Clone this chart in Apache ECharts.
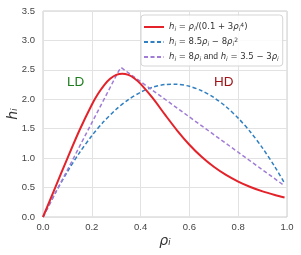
<!DOCTYPE html>
<html><head><meta charset="utf-8">
<script src="https://cdn.jsdelivr.net/npm/echarts@6/dist/echarts.min.js"></script>
<style>html,body{margin:0;padding:0;background:#fff}#c{width:301px;height:255px}</style>
</head><body><div id="c"></div>
<script>
const rhoRed = [0, 0.05, 0.1, 0.15, 0.2, 0.225, 0.25, 0.275, 0.3, 0.325, 0.35, 0.375, 0.4, 0.45, 0.5, 0.55, 0.6, 0.65, 0.7, 0.75, 0.8, 0.85, 0.9, 0.95, 0.99];
const hRed = [0, 0.500, 0.997, 1.478, 1.908, 2.089, 2.238, 2.347, 2.414, 2.435, 2.414, 2.354, 2.262, 2.018, 1.739, 1.469, 1.228, 1.023, 0.853, 0.715, 0.602, 0.510, 0.435, 0.374, 0.332];
const rhoBlue = [0, 0.05, 0.1, 0.15, 0.2, 0.25, 0.3, 0.35, 0.4, 0.45, 0.5, 0.55, 0.6, 0.65, 0.7, 0.75, 0.8, 0.85, 0.9, 0.95, 0.99];
const hBlue = [0, 0.405, 0.77, 1.095, 1.38, 1.625, 1.83, 1.995, 2.12, 2.205, 2.25, 2.255, 2.22, 2.145, 2.03, 1.875, 1.68, 1.445, 1.17, 0.855, 0.574];
const rhoPurple = [0, 0.31, 0.32, 0.99];
const hPurple = [0, 2.48, 2.54, 0.53];
const legendNames = ['red', 'blue', 'purple'];
const xTicks = [0, 0.2, 0.4, 0.6, 0.8, 1.0];
const yTicks = [0, 0.5, 1, 1.5, 2, 2.5, 3, 3.5];

const pairs = (xs, ys) => xs.map((x, i) => [x, ys[i]]);
const legendText = {
  red: '{m|h}{s|i} = {m|ρ}{s|i}/(0.1 + 3{m|ρ}{s|i}{p|4})',
  blue: '{m|h}{s|i} = 8.5{m|ρ}{s|i} − 8{m|ρ}{s|i}{p|2}',
  purple: '{m|h}{s|i} = 8{m|ρ}{s|i} {a|and} {m|h}{s|i} = 3.5 − 3{m|ρ}{s|i}'
};
const font = 'DejaVu Sans';
const sans = 'Liberation Sans';
const chart = echarts.init(document.getElementById('c'), null, {renderer: 'canvas'});
chart.setOption({
  animation: false,
  backgroundColor: '#fff',
  textStyle: {fontFamily: sans},
  grid: {left: 43, right: 14, top: 11, bottom: 38, show: true, borderColor: '#cccccc', borderWidth: 1,
    containLabel: false, outerBoundsMode: 'none'},
  xAxis: {
    type: 'value', min: 0, max: 1, interval: 0.2,
    name: 'ρᵢ', nameLocation: 'middle', nameGap: 17, nameMoveOverlap: false,
    nameTextStyle: {fontFamily: font, fontStyle: 'italic', fontSize: 14, color: '#333', verticalAlign: 'top'},
    axisLine: {show: false}, axisTick: {show: false},
    splitLine: {show: true, lineStyle: {color: '#e2e2e2', width: 1}},
    axisLabel: {fontFamily: sans, fontSize: 9.5, color: '#444', margin: 5,
      formatter: v => v.toFixed(1)}
  },
  yAxis: {
    type: 'value', min: 0, max: 3.5, interval: 0.5,
    name: 'hᵢ', nameLocation: 'middle', nameGap: 23, nameRotate: 90, nameMoveOverlap: false,
    nameTextStyle: {fontFamily: font, fontStyle: 'italic', fontSize: 14, color: '#333'},
    axisLine: {show: false}, axisTick: {show: false},
    splitLine: {show: true, lineStyle: {color: '#e2e2e2', width: 1}},
    axisLabel: {fontFamily: sans, fontSize: 9.5, color: '#444', margin: 8,
      formatter: v => v.toFixed(1)}
  },
  legend: {
    orient: 'vertical', left: 141, top: 15,
    data: legendNames,
    formatter: n => legendText[n],
    itemWidth: 20, itemHeight: 10, itemGap: 5,
    padding: [7, 4, 4, 2],
    backgroundColor: 'rgba(255,255,255,0.85)',
    borderColor: '#d5d5d5', borderWidth: 1, borderRadius: 3,
    itemStyle: {opacity: 0},
    textStyle: {fontFamily: font, fontSize: 8.5, color: '#333', lineHeight: 10,
      rich: {
        m: {fontFamily: font, fontStyle: 'italic', fontSize: 8.5, color: '#333'},
        a: {fontFamily: sans, fontSize: 8.5, color: '#333'},
        s: {fontFamily: font, fontStyle: 'italic', fontSize: 6, color: '#333', verticalAlign: 'bottom', padding: [4, 0, 0, 0]},
        p: {fontFamily: font, fontSize: 6, color: '#333', verticalAlign: 'top', padding: [0, 0, 4, 0]}
      }}
  },
  series: [
    {name: 'red', type: 'line', data: pairs(rhoRed, hRed), smooth: 0.3, symbol: 'none', showSymbol: false,
      lineStyle: {color: '#e3222a', width: 2}, itemStyle: {color: '#e3222a'}, z: 3},
    {name: 'blue', type: 'line', data: pairs(rhoBlue, hBlue), smooth: 0.3, symbol: 'none', showSymbol: false,
      lineStyle: {color: '#2f7fc1', width: 1.5, type: [4, 2.5]}, itemStyle: {color: '#2f7fc1'}, z: 2},
    {name: 'purple', type: 'line', data: pairs(rhoPurple, hPurple), symbol: 'none', showSymbol: false,
      lineStyle: {color: '#a07cd6', width: 1.5, type: [4, 2.5]}, itemStyle: {color: '#a07cd6'}, z: 2}
  ],
  graphic: [
    {type: 'text', left: 67, top: 75, style: {text: 'LD', fill: '#1e7d1e', fontFamily: sans, fontSize: 13.5}},
    {type: 'text', left: 214, top: 75, style: {text: 'HD', fill: '#a01418', fontFamily: sans, fontSize: 13.5}}
  ]
});
</script></body></html>
